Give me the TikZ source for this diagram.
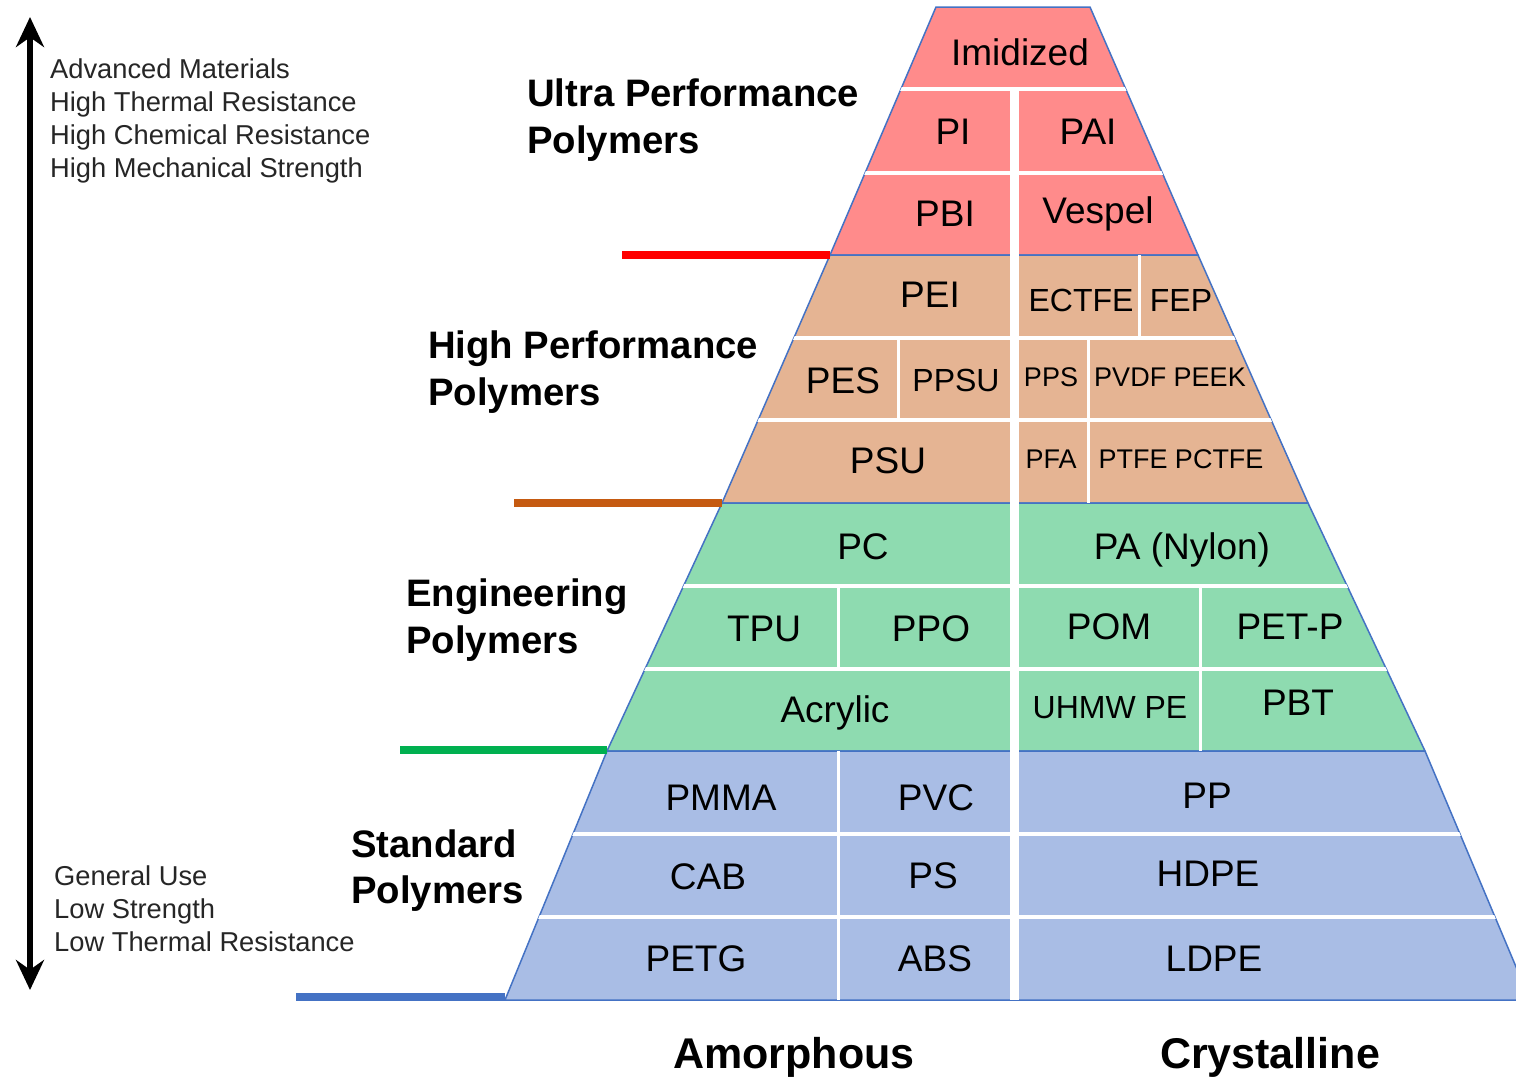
\documentclass[tikz,border=0pt]{standalone}
\usepackage{fontspec}
\setmainfont{Liberation Sans}
\usetikzlibrary{arrows.meta}
\definecolor{redband}{RGB}{255,139,139}
\definecolor{tanband}{RGB}{229,180,147}
\definecolor{greenband}{RGB}{142,219,176}
\definecolor{blueband}{RGB}{169,189,229}
\definecolor{edgeblue}{RGB}{68,114,196}
\definecolor{mkred}{RGB}{255,0,0}
\definecolor{mkbrown}{RGB}{197,90,17}
\definecolor{mkgreen}{RGB}{0,176,80}
\definecolor{mkblue}{RGB}{68,114,196}
\begin{document}
\begin{tikzpicture}[x=1pt,y=-1pt,
  band/.style={draw=edgeblue,line width=1.5pt,line join=miter},
  rowsep/.style={white,line width=4pt},
  colsep/.style={white,line width=3pt},
  midsep/.style={white,line width=9pt},
  marker/.style={line width=8pt},
  big/.style={inner sep=0pt,text height=26.5pt,text depth=0pt,font=\fontsize{37pt}{40pt}\selectfont},
  mid/.style={inner sep=0pt,text height=23pt,text depth=0pt,font=\fontsize{32pt}{36pt}\selectfont},
  small/.style={inner sep=0pt,text height=19.5pt,text depth=0pt,font=\fontsize{27pt}{30pt}\selectfont},
  tier/.style={anchor=base west,inner sep=0pt,font=\fontsize{38.3pt}{42pt}\selectfont\bfseries},
  axis/.style={anchor=base,inner sep=0pt,font=\fontsize{43pt}{46pt}\selectfont\bfseries},
  note/.style={anchor=base west,inner sep=0pt,font=\fontsize{27.3pt}{30pt}\selectfont,text=black!85}
]
\clip (0,0) rectangle (1516,1077);
\fill[white] (0,0) rectangle (1516,1077);

% bands
\filldraw[band,fill=redband]   (936,7) -- (1090,7) -- (1198,255) -- (830,255) -- cycle;
\filldraw[band,fill=tanband]   (830,255) -- (1198,255) -- (1308,503) -- (722,503) -- cycle;
\filldraw[band,fill=greenband] (722,503) -- (1308,503) -- (1425,751) -- (607,751) -- cycle;
\filldraw[band,fill=blueband]  (607,751) -- (1425,751) -- (1530,1000) -- (505,1000) -- cycle;

% white separators inside the pyramid
\begin{scope}
\clip (936,7) -- (1090,7) -- (1198,255) -- (1308,503) -- (1425,751) -- (1530,1000)
      -- (505,1000) -- (607,751) -- (722,503) -- (830,255) -- cycle;
\foreach \yy in {89,173,338,420,586,669,834,917}
  \draw[rowsep] (400,\yy) -- (1600,\yy);
\draw[colsep] (1139,255) -- (1139,338);
\draw[colsep] (898,338) -- (898,420);
\draw[colsep] (1088,338) -- (1088,503);
\draw[colsep] (838,586) -- (838,669);
\draw[colsep] (1200,586) -- (1200,751);
\draw[colsep] (838,751) -- (838,1000);
\draw[midsep] (1014.5,89) -- (1014.5,1000);
\end{scope}

% markers
\draw[marker,mkred]   (622,255) -- (830,255);
\draw[marker,mkbrown] (514,503) -- (722,503);
\draw[marker,mkgreen] (400,750) -- (607,750);
\draw[marker,mkblue]  (296,997) -- (505,997);

% arrow
\draw[line width=6pt,{Stealth[length=30pt,width=28pt]}-{Stealth[length=30pt,width=28pt]}] (30,17) -- (30,990);

% pyramid texts
\node[big] (imid) at (1020,52) {Imidized};
\node[big] (pi) at (953,131) {PI};
\node[big] (pai) at (1088,131) {PAI};
\node[big] (pbi) at (945,213) {PBI};
\node[big] (vespel) at (1098,210) {Vespel};
\node[big] (pei) at (930,294) {PEI};
\node[mid] (ectfe) at (1081,300) {ECTFE};
\node[mid] (fep) at (1181,300) {FEP};
\node[big] (pes) at (843,380) {PES};
\node[mid] (ppsu) at (956,380) {PPSU};
\node[small] (pps) at (1051,377) {PPS};
\node[small] (pvdf) at (1170,377) {PVDF PEEK};
\node[big] (psu) at (888,460) {PSU};
\node[small] (pfa) at (1051,459) {PFA};
\node[small] (ptfe) at (1181,459) {PTFE PCTFE};
\node[big] (pc) at (863,546) {PC};
\node[big] (pa) at (1182,546) {PA (Nylon)};
\node[big] (tpu) at (764,628) {TPU};
\node[big] (ppo) at (931,628) {PPO};
\node[big] (pom) at (1109,626) {POM};
\node[big] (petp) at (1290,626) {PET-P};
\node[big] (acr) at (835,709) {Acrylic};
\node[mid] (uhmw) at (1110,707) {UHMW PE};
\node[big] (pbt) at (1298,702) {PBT};
\node[big] (pmma) at (721,797) {PMMA};
\node[big] (pvc) at (936,797) {PVC};
\node[big] (pp) at (1207,795) {PP};
\node[big] (cab) at (708,876) {CAB};
\node[big] (ps) at (933,875) {PS};
\node[big] (hdpe) at (1208,873) {HDPE};
\node[big] (petg) at (696,958) {PETG};
\node[big] (abs) at (935,958) {ABS};
\node[big] (ldpe) at (1214,958) {LDPE};

% tier labels
\node[tier] (u1) at (527,106) {Ultra Performance};
\node[tier] (u2) at (527,153) {Polymers};
\node[tier] (h1) at (428,358) {High Performance};
\node[tier] (h2) at (428,405) {Polymers};
\node[tier] (e1) at (406,606) {Engineering};
\node[tier] (e2) at (406,653) {Polymers};
\node[tier] (s1) at (351,857) {Standard};
\node[tier] (s2) at (351,903) {Polymers};

\node[axis] (amor) at (794,1068) {Amorphous};
\node[axis] (cryst) at (1270,1068) {Crystalline};

% notes
\node[note] (n1) at (50,78) {Advanced Materials};
\node[note] (n2) at (50,111) {High Thermal Resistance};
\node[note] (n3) at (50,144) {High Chemical Resistance};
\node[note] (n4) at (50,177) {High Mechanical Strength};
\node[note] (m1) at (54,885) {General Use};
\node[note] (m2) at (54,918) {Low Strength};
\node[note] (m3) at (54,951) {Low Thermal Resistance};
\end{tikzpicture}
\end{document}
